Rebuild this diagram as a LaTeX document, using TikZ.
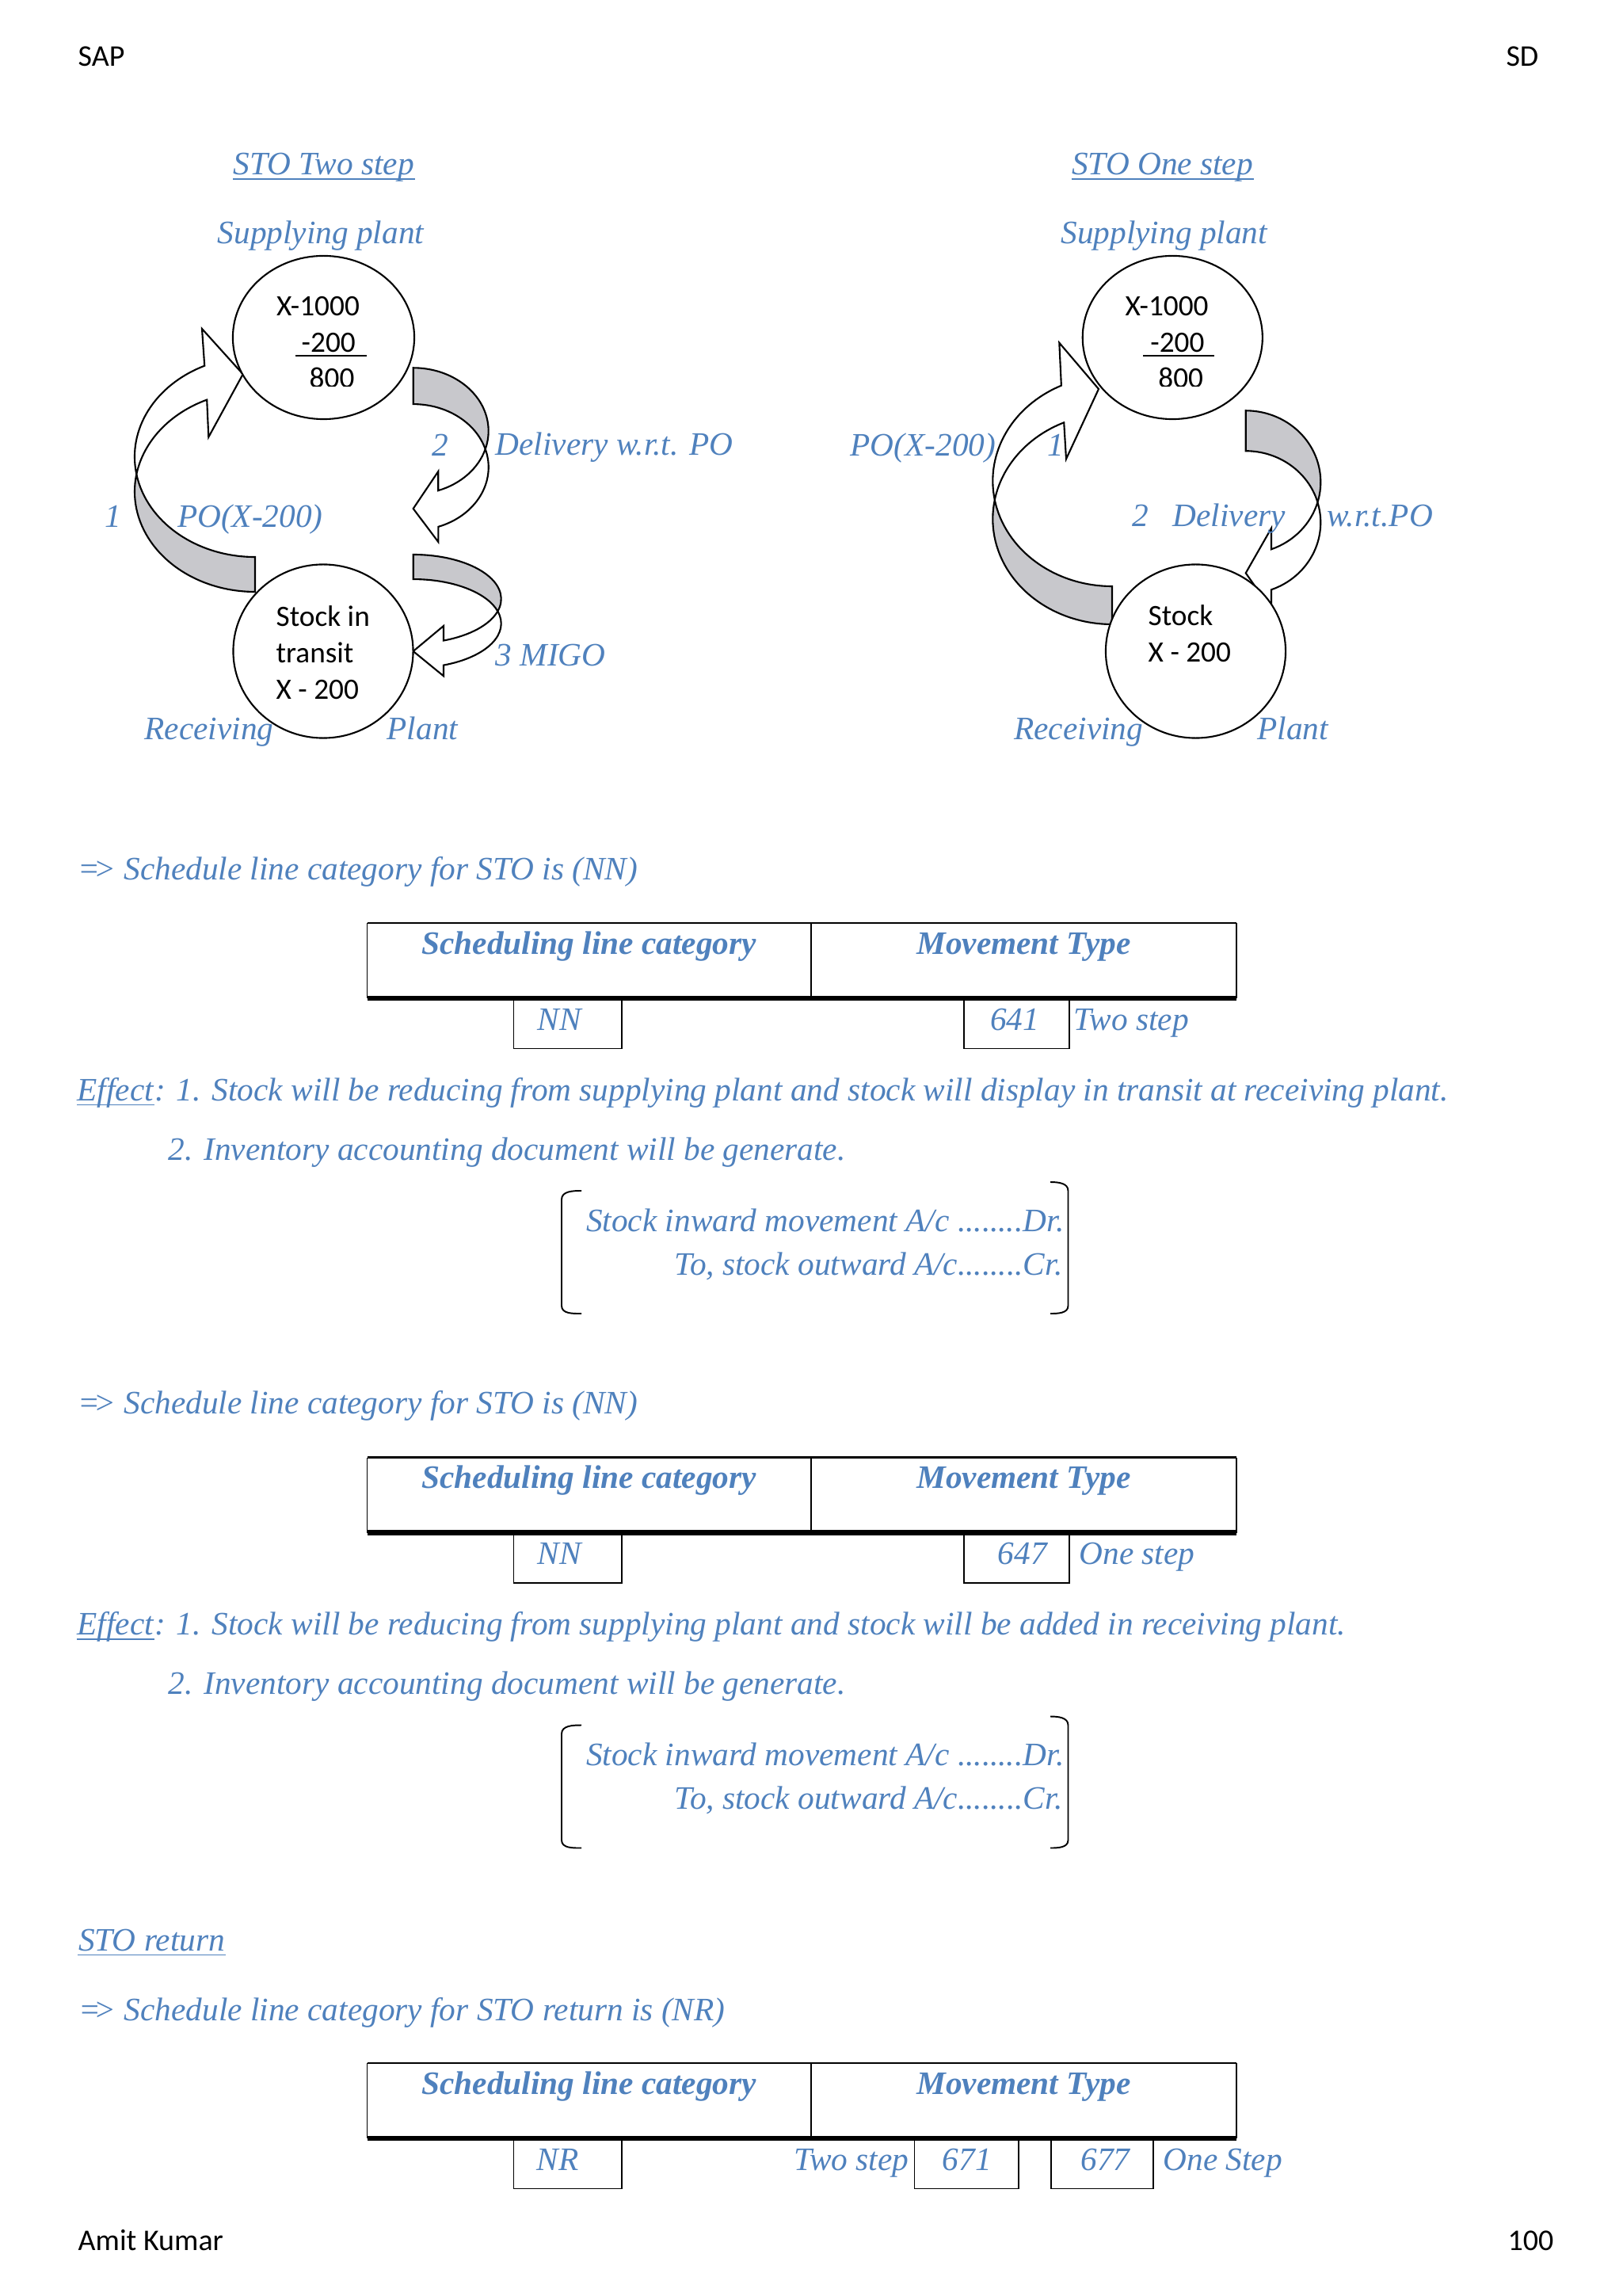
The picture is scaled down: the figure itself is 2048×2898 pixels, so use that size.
\documentclass[tikz,border=0pt]{standalone}
\usepackage{fontspec}
\setmainfont{Liberation Serif}
\setsansfont{Carlito}
\usepackage{tikz}
\usetikzlibrary{shapes.geometric}
\usetikzlibrary{positioning}
\definecolor{stoblue}{RGB}{79,129,189}
\definecolor{backgray}{RGB}{200,200,204}
\newcommand{\implarrow}{=\kern-2.4pt>}
\tikzset{
lbl/.style={text=stoblue, font=\fontsize{11.75}{14}\selectfont\itshape, inner sep=0pt, anchor=base west},
thead/.style={text=stoblue, font=\fontsize{11.75}{14}\selectfont\bfseries\itshape, inner sep=0pt, anchor=base},
ctext/.style={font=\sffamily\fontsize{10.6}{13}\selectfont, inner sep=0pt, anchor=base west},
pagetext/.style={font=\sffamily\fontsize{10.8}{13}\selectfont, inner sep=0pt},
plant/.style={shape=ellipse, draw, fill=white, line width=0.6pt, inner sep=0pt},
arrowface/.style={draw, fill=white, line width=0.6pt},
arrowback/.style={draw, fill=backgray, line width=0.6pt},
ulblue/.style={stoblue, line width=0.45pt},
tabline/.style={line width=0.5pt},
tabtop/.style={line width=0.75pt},
tabbase/.style={line width=1.85pt},
bracket/.style={line width=0.55pt}
}

\begin{document}
\begin{tikzpicture}[x=0.01cm, y=-0.01cm]
    \fill[white] (0,0) rectangle (2048,2898);
    \useasboundingbox (0,0) rectangle (2048,2898);

    % header and footer
    \node[pagetext, anchor=base west] (sap) at (98,84) {SAP};
    \node[pagetext, anchor=base east] (sd) at (1943,84) {SD};
    \node[pagetext, anchor=base west] (author) at (98,2840) {Amit Kumar};
    \node[pagetext, anchor=base east] (pageno) at (1962,2840) {100};

    % STO two step: block arrows
    \draw[arrowback] (172.3,598.5) arc[start angle=170, end angle=90, x radius=152, y radius=126.5] -- (322,747) arc[start angle=90, end angle=190, x radius=152, y radius=126.5] -- cycle;
    \draw[arrowface] (172.3,598.5) arc[start angle=170, end angle=245.2, x radius=152, y radius=126.5] -- (255,415) -- (306.7,472.3) -- (263.3,551.7) -- (261.2,504.6) arc[start angle=246.4, end angle=190, x radius=152, y radius=126.5] -- cycle;

    \draw[arrowback] (521.7,464.3) arc[start angle=270, end angle=376.7, x radius=95, y radius=79.7] arc[start angle=343.3, end angle=270, x radius=95, y radius=79.7] -- cycle;
    \draw[arrowface] (612.7,566.9) arc[start angle=16.7, end angle=70.6, x radius=95, y radius=79.7] -- (553.3,595) -- (521.7,642) -- (553.3,684) -- (553.3,664.9) arc[start angle=70.6, end angle=-16.7, x radius=95, y radius=79.7] -- cycle;

    \draw[arrowback] (521.7,700) arc[start angle=270, end angle=376.1, x radius=111, y radius=56] arc[start angle=343.9, end angle=270, x radius=111, y radius=56] -- cycle;
    \draw[arrowface] (628.3,771.5) arc[start angle=16.1, end angle=69.8, x radius=111, y radius=56] -- (560,790) -- (521.7,822) -- (560,853.3) -- (560,839.6) arc[start angle=69.8, end angle=-16.1, x radius=111, y radius=56] -- cycle;

    % STO one step: block arrows
    \draw[arrowback] (1255.8,631) arc[start angle=169.6, end angle=90, x radius=150.7, y radius=133] -- (1404,788) arc[start angle=90, end angle=190.4, x radius=150.7, y radius=133] -- cycle;
    \draw[arrowface] (1255.8,631) arc[start angle=169.6, end angle=244.8, x radius=150.7, y radius=133] -- (1337.3,432.7) -- (1387,491) -- (1346,579.3) -- (1343.2,533.3) arc[start angle=246.2, end angle=190.4, x radius=150.7, y radius=133] -- cycle;

    \draw[arrowback] (1572.7,518.3) arc[start angle=270, end angle=376.4, x radius=94.6, y radius=90.2] arc[start angle=343.6, end angle=270, x radius=94.6, y radius=90.2] -- cycle;
    \draw[arrowface] (1663.4,634) arc[start angle=16.4, end angle=70, x radius=94.6, y radius=90.2] -- (1605,666.7) -- (1572.7,723.3) -- (1605,769) -- (1605,744.3) arc[start angle=70, end angle=-16.4, x radius=94.6, y radius=90.2] -- cycle;

    % plants
    \node[plant, minimum width=2.29cm, minimum height=2.06cm] (supply2) at (408.5,426) {};
    \node[plant, minimum width=2.27cm, minimum height=2.19cm] (receive2) at (408,822) {};
    \node[plant, minimum width=2.27cm, minimum height=2.06cm] (supply1) at (1480.3,426) {};
    \node[plant, minimum width=2.27cm, minimum height=2.19cm] (receive1) at (1509.5,822) {};

    \node[ctext] (stock2a) at (348.3,398.3) {X-1000};
    \node[ctext] (stock2b) at (380,445) {-200};
    \draw[line width=0.4pt] (373.3,449) -- (462.7,449);
    \begin{scope}
        \clip (360,455) rectangle (470,487.5);
        \node[ctext] (stock2c) at (390,490) {800};
    \end{scope}
    \node[ctext] (transit2a) at (348,791) {Stock in};
    \node[ctext] (transit2b) at (348,837) {transit};
    \node[ctext] (transit2c) at (348,883) {X - 200};

    \node[ctext] (stock1a) at (1420,398.3) {X-1000};
    \node[ctext] (stock1b) at (1451.7,445) {-200};
    \draw[line width=0.4pt] (1443.3,449) -- (1532.7,449);
    \begin{scope}
        \clip (1430,455) rectangle (1540,487.5);
        \node[ctext] (stock1c) at (1461.7,490) {800};
    \end{scope}
    \node[ctext] (recv1a) at (1449,790) {Stock};
    \node[ctext] (recv1b) at (1449,836) {X - 200};

    % labels, two step
    \node[lbl] (ttwo) at (294,221) {STO Two step};
    \draw[ulblue] ([yshift=-1.5pt]ttwo.base west) -- ([yshift=-1.5pt]ttwo.base east);
    \node[lbl] (sup2) at (274,308) {Supplying plant};
    \node[lbl] (n2a) at (545,576) {2};
    \node[lbl] (dlv2) at (625,575) {Delivery w.r.t. PO};
    \node[lbl] (n1a) at (131.6,666) {1};
    \node[lbl] (po2) at (223.3,666) {PO(X-200)};
    \node[lbl] (migo) at (625,841) {3 MIGO};
    \node[lbl] (rcv2) at (181.7,933) {Receiving};
    \node[lbl] (plt2) at (488,933) {Plant};

    % labels, one step
    \node[lbl] (tone) at (1352.5,221) {STO One step};
    \draw[ulblue] ([yshift=-1.5pt]tone.base west) -- ([yshift=-1.5pt]tone.base east);
    \node[lbl] (sup1) at (1338.7,308) {Supplying plant};
    \node[lbl] (po1) at (1073,576) {PO(X-200)};
    \node[lbl] (n1b) at (1321.7,576) {1};
    \node[lbl] (n2b) at (1429,665) {2};
    \node[lbl] (dlv1) at (1480,665) {Delivery};
    \node[lbl] (wrt1) at (1674.6,665) {w.r.t.PO};
    \node[lbl] (rcv1) at (1279.6,933) {Receiving};
    \node[lbl] (plt1) at (1586.7,933) {Plant};

    % NN, two step
    \node[lbl] (sched1) at (98,1110) {\implarrow{} Schedule line category for STO is (NN)};
    \draw[tabline] (463.5,1165) -- (463.5,1260) (1024,1165) -- (1024,1260) (1561,1165) -- (1561,1260);
    \draw[tabtop] (463.5,1165) -- (1561,1165);
    \draw[tabbase] (463.5,1260) -- (1561,1260);
    \draw[tabline] (648.4,1263) -- (648.4,1323.5) -- (784.8,1323.5) -- (784.8,1263);
    \draw[tabline] (1216.8,1263) -- (1216.8,1323.5) -- (1350.3,1323.5) -- (1350.3,1263);
    \node[thead] (slc1) at (743.8,1204) {Scheduling line category};
    \node[thead] (mvt1) at (1292.5,1204) {Movement Type};
    \node[lbl] (nn1) at (678,1300) {NN};
    \node[lbl] (mt641) at (1249.4,1300) {641};
    \node[lbl] (two1) at (1355,1300) {Two step};
    \node[lbl] (eff1) at (97,1389) {Effect};
    \node[lbl] (eff1txt) at (eff1.base east) {: 1. Stock will be reducing from supplying plant and stock will display in transit at receiving plant.};
    \draw[ulblue] ([yshift=-1.6pt]eff1.base west) -- ([yshift=-1.6pt]eff1.base east);
    \node[lbl] (inv1) at (212,1464) {2. Inventory accounting document will be generate.};
    \draw[bracket] (734,1503) to[out=180, in=90] (709,1514) -- (709,1648) to[out=270, in=180] (734,1658);
    \draw[bracket] (1326,1492) to[out=0, in=90] (1348.5,1503) -- (1348.5,1648) to[out=270, in=0] (1326,1658);
    \node[lbl, anchor=base east] (dr1) at (1344,1554) {Stock inward movement A/c ........Dr.};
    \node[lbl, anchor=base east] (cr1) at (1342,1609) {To, stock outward A/c........Cr.};

    % NN, one step
    \begin{scope}[shift={(0,674.5)}]
        \node[lbl] (sched2) at (98,1110) {\implarrow{} Schedule line category for STO is (NN)};
        \draw[tabline] (463.5,1165) -- (463.5,1260) (1024,1165) -- (1024,1260) (1561,1165) -- (1561,1260);
        \draw[tabtop] (463.5,1165) -- (1561,1165);
        \draw[tabbase] (463.5,1260) -- (1561,1260);
        \draw[tabline] (648.4,1263) -- (648.4,1323.5) -- (784.8,1323.5) -- (784.8,1263);
        \draw[tabline] (1216.8,1263) -- (1216.8,1323.5) -- (1350.3,1323.5) -- (1350.3,1263);
        \node[thead] (slc2) at (743.8,1204) {Scheduling line category};
        \node[thead] (mvt2) at (1292.5,1204) {Movement Type};
        \node[lbl] (nn2) at (678,1300) {NN};
        \node[lbl] (mt647) at (1259,1300) {647};
        \node[lbl] (one2) at (1362,1300) {One step};
        \node[lbl] (eff2) at (97,1389) {Effect};
        \node[lbl] (eff2txt) at (eff2.base east) {: 1. Stock will be reducing from supplying plant and stock will be added in receiving plant.};
        \draw[ulblue] ([yshift=-1.6pt]eff2.base west) -- ([yshift=-1.6pt]eff2.base east);
        \node[lbl] (inv2) at (212,1464) {2. Inventory accounting document will be generate.};
        \draw[bracket] (734,1503) to[out=180, in=90] (709,1514) -- (709,1648) to[out=270, in=180] (734,1658);
        \draw[bracket] (1326,1492) to[out=0, in=90] (1348.5,1503) -- (1348.5,1648) to[out=270, in=0] (1326,1658);
        \node[lbl, anchor=base east] (dr2) at (1344,1554) {Stock inward movement A/c ........Dr.};
        \node[lbl, anchor=base east] (cr2) at (1342,1609) {To, stock outward A/c........Cr.};
    \end{scope}

    % STO return
    \node[lbl] (tret) at (98.4,2462) {STO return};
    \draw[ulblue] ([yshift=-1.5pt]tret.base west) -- ([yshift=-1.5pt]tret.base east);
    \node[lbl] (sched3) at (98.4,2550) {\implarrow{} Schedule line category for STO return is (NR)};
    \draw[tabline] (463.5,2604) -- (463.5,2699) (1024,2604) -- (1024,2699) (1561,2604) -- (1561,2699);
    \draw[tabtop] (463.5,2604) -- (1561,2604);
    \draw[tabbase] (463.5,2699) -- (1561,2699);
    \draw[tabline] (648.4,2702) -- (648.4,2762.5) -- (784.8,2762.5) -- (784.8,2702);
    \draw[tabline] (1154.5,2702) -- (1154.5,2762.5) -- (1286,2762.5) -- (1286,2702);
    \draw[tabline] (1327,2702) -- (1327,2762.5) -- (1456,2762.5) -- (1456,2702);
    \node[thead] (slc3) at (743.8,2643) {Scheduling line category};
    \node[thead] (mvt3) at (1292.5,2643) {Movement Type};
    \node[lbl] (nr3) at (677,2739) {NR};
    \node[lbl] (two3) at (1001.4,2739) {Two step};
    \node[lbl] (mt671) at (1189,2739) {671};
    \node[lbl] (mt677) at (1363.7,2739) {677};
    \node[lbl] (one3) at (1467.8,2739) {One Step};
\end{tikzpicture}
\end{document}
